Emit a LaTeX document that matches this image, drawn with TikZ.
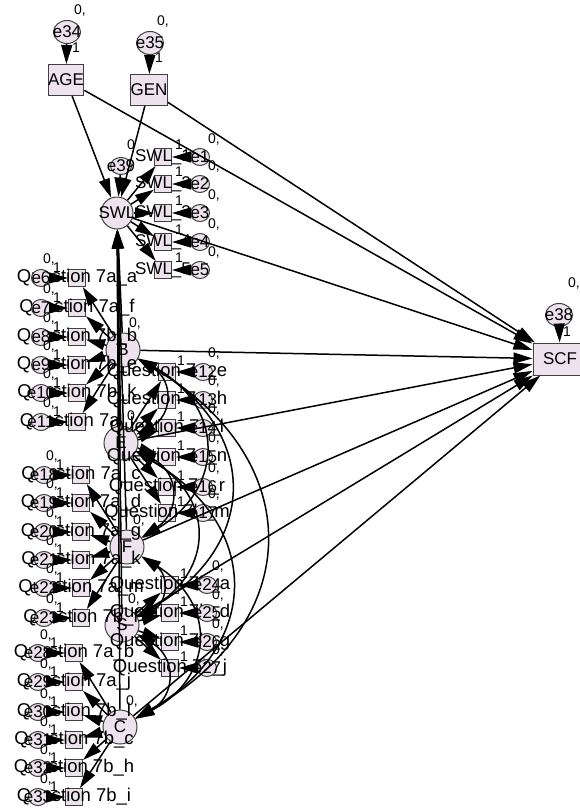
\documentclass[tikz,border=0pt]{standalone}
\usepackage{fontspec}
\setmainfont{Liberation Sans}
\usetikzlibrary{arrows.meta, calc, positioning, shapes.geometric}
\definecolor{amospink}{RGB}{238,226,238}

\begin{document}
\begin{tikzpicture}[x=1pt, y=-1pt,
    obs/.style={rectangle, draw=black!75, fill=amospink, line width=1pt, minimum size=17pt, inner sep=0pt},
    bigobs/.style={obs, minimum width=35pt, minimum height=31pt, font=\fontsize{17}{17}\selectfont},
    lat/.style={circle, draw=black!75, fill=amospink, line width=1pt, minimum size=34pt, inner sep=0pt},
    err/.style={ellipse, draw=black!75, fill=amospink, line width=1pt, minimum width=19pt, minimum height=17pt, inner sep=0pt},
    bigerr/.style={err, minimum width=27pt, minimum height=23pt},
    txt/.style={font=\fontsize{17}{17}\selectfont, inner sep=0pt},
    qtxt/.style={font=\fontsize{18.5}{18.5}\selectfont, inner sep=0pt},
    num/.style={font=\fontsize{14}{14}\selectfont, inner sep=0pt},
    reg/.style={line width=1.5pt, -{Triangle[length=19pt, width=11pt]}},
    cov/.style={line width=1.5pt, {Triangle[length=19pt, width=11pt]}-{Triangle[length=19pt, width=11pt]}},
]
\useasboundingbox (0,0) rectangle (579,809);

% top: AGE, GEN and the outcome SCF
\node[bigobs] (AGE) at (66,80) {AGE};
\node[bigobs] (GEN) at (149,90) {GEN};
\node[bigobs, minimum width=54pt, minimum height=32pt] (SCF) at (560,359) {SCF};
\node[bigerr, label={[txt]center:e34}] (e34) at (67,32) {};
\node[bigerr, label={[txt]center:e35}] (e35) at (150,43) {};
\node[bigerr, label={[txt]center:e38}] (e38) at (559,315) {};
\node[num] at (80,11) {0,};
\node[num] at (163,22) {0,};
\node[num] at (574,284) {0,};
\node[num] at (76,48) {1};
\node[num] at (159,58) {1};
\node[num] at (567,332) {1};
\draw[reg] (e34) -- (AGE);
\draw[reg] (e35) -- (GEN);
\draw[reg] (e38) -- (SCF);

% SWL and its items
\node[lat, minimum size=32pt, label={[txt]center:SWL}] (SWL) at (117,213) {};
\node[err, minimum width=21pt, label={[txt]center:e39}] (e39) at (121,166) {};
\node[num] at (131,145) {0};
\draw[reg] (e39) -- (SWL);
\foreach \y [count=\i] in {157,184,213,242,270} {
  \node[obs, label={[txt]center:SWL\_\i}] (sw\i) at (163,\y) {};
  \node[err, label={[txt]center:e\i}] (e\i) at (200,\y) {};
  \node[num] at (179,\y-12) {1};
  \node[num] at (214,\y-17) {0,};
  \draw[reg] (e\i) -- (sw\i);
  \draw[reg] (SWL) -- (sw\i);
}

% factors
\node[lat, label={[txt]center:B}] (f1) at (123,350) {};
\node[lat, label={[txt]center:E}] (f2) at (121,443) {};
\node[lat, label={[txt]center:F}] (f3) at (127,547) {};
\node[lat, label={[txt]center:S}] (f4) at (122,625) {};
\node[lat, label={[txt]center:C}] (f5) at (120,727) {};
\foreach \i in {1,...,5}
  \node[num] at ($(f\i)+(12,-26)$) {0,};

% B items (left)
\foreach \y/\q/\e in {278/7a\_a/6, 308/7a\_f/7, 337/7b\_b/8, 365/7b\_e/9, 393/7b\_k/10, 422/7a\_i/11} {
  \node[obs, label={[qtxt]center:Question \q}] (q\e) at (77,\y) {};
  \node[err, label={[txt]center:e\e}] (e\e) at (41,\y) {};
  \node[num] at (49,\y-18) {0,};
  \node[num] at (57,\y-10) {1};
  \draw[reg] (e\e) -- (q\e);
  \draw[reg] (f1) -- (q\e);
}

% E items (right)
\foreach \y/\q/\e in {372/7a\_e/12, 400/7a\_h/13, 428/7a\_l/14, 457/7a\_n/15, 487/7a\_r/16, 513/7b\_m/17} {
  \node[obs, label={[qtxt]center:Question \q}] (q\e) at (167,\y) {};
  \node[err, label={[txt]center:e\e}] (e\e) at (203,\y) {};
  \node[num] at (214,\y-18) {0,};
  \node[num] at (181,\y-11) {1};
  \draw[reg] (e\e) -- (q\e);
  \draw[reg] (f2) -- (q\e);
}

% F items (left)
\foreach \y/\q/\e in {475/7a\_c/18, 503/7a\_d/19, 532/7a\_g/20, 560/7a\_k/21, 588/7a\_m/22, 618/7b\_f/23} {
  \node[obs, label={[qtxt]center:Question \q}] (q\e) at (81,\y) {};
  \node[err, label={[txt]center:e\e}] (e\e) at (44,\y) {};
  \node[num] at (52,\y-18) {0,};
  \node[num] at (60,\y-10) {1};
  \draw[reg] (e\e) -- (q\e);
  \draw[reg] (f3) -- (q\e);
}

% S items (right)
\foreach \y/\q/\e in {585/7b\_a/24, 613/7b\_d/25, 642/7b\_g/26, 668/7b\_j/27} {
  \node[obs, label={[qtxt]center:Question \q}] (q\e) at (170,\y) {};
  \node[err, label={[txt]center:e\e}] (e\e) at (207,\y) {};
  \node[num] at (218,\y-18) {0,};
  \node[num] at (184,\y-11) {1};
  \draw[reg] (e\e) -- (q\e);
  \draw[reg] (f4) -- (q\e);
}

% C items (left)
\foreach \y/\q/\e in {653/7a\_b/28, 682/7a\_j/29, 712/7b\_l/30, 740/7b\_c/31, 768/7b\_h/32, 797/7b\_i/33} {
  \node[obs, label={[qtxt]center:Question \q}] (q\e) at (74,\y) {};
  \node[err, label={[txt]center:e\e}] (e\e) at (38,\y) {};
  \node[num] at (46,\y-18) {0,};
  \node[num] at (54,\y-10) {1};
  \draw[reg] (e\e) -- (q\e);
  \draw[reg] (f5) -- (q\e);
}

% structural paths
\draw[reg] (AGE) -- (SWL);
\draw[reg] (GEN) -- (SWL);
\draw[reg] (AGE) -- (SCF);
\draw[reg] (GEN) -- (SCF);
\draw[reg] (SWL) -- (SCF);
\foreach \i in {1,...,5} {
  \draw[reg] (f\i) -- (SWL);
  \draw[reg] (f\i) -- (SCF);
}

% covariances between factors
\foreach \a/\b in {1/2, 2/3, 3/4, 4/5, 1/3, 2/4, 3/5, 1/4, 2/5, 1/5}
  \draw[cov] (f\a) to[bend left=60, looseness=1.4] (f\b);
\end{tikzpicture}
\end{document}
